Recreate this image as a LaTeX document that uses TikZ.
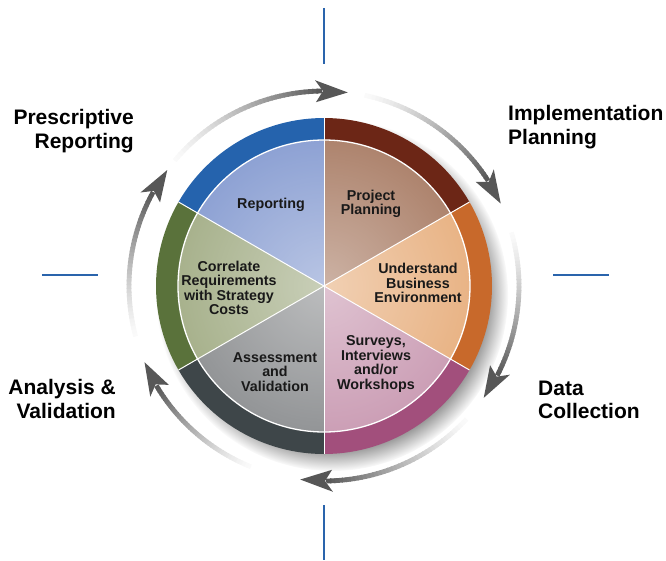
\documentclass[tikz,border=0pt]{standalone}
\usepackage{fontspec}
\setmainfont{Liberation Sans}
\usetikzlibrary{fadings}
\definecolor{repO}{HTML}{2563AD}
\definecolor{repI}{HTML}{8EA2D4}
\definecolor{ppO}{HTML}{6C2616}
\definecolor{ppI}{HTML}{AE846E}
\definecolor{ubO}{HTML}{C8692B}
\definecolor{ubI}{HTML}{E9B486}
\definecolor{svO}{HTML}{A24F7C}
\definecolor{svI}{HTML}{CC9FB6}
\definecolor{avO}{HTML}{3E4649}
\definecolor{avI}{HTML}{939597}
\definecolor{crO}{HTML}{5A723B}
\definecolor{crI}{HTML}{A8B28D}
\definecolor{lineblue}{HTML}{2A64AC}
\tikzfading[name=innerglow, inner color=transparent!62, outer color=transparent!100]
\newcommand{\gradarrow}[2]{%
  \foreach \k in {0,...,39}{%
    \pgfmathsetmacro{\angA}{#1+(#2+8-#1)*\k/40}%
    \pgfmathsetmacro{\angB}{#1+(#2+8-#1)*(\k+1.3)/40}%
    \pgfmathsetmacro{\pct}{2+63*(\k/39)^1.3}%
    \draw[line width=4.8, draw=black!\pct] (\angA:195) arc[start angle=\angA, end angle=\angB, radius=195];
  }%
  \fill[black!66] (#2:195) -- (#2+9.5:206) -- (#2+7.3:195) -- (#2+9.5:184) -- cycle;
}
\newcommand{\sector}[4]{% start, end, outer col, inner col
  \fill[#3] (0,0) -- (#1:168) arc[start angle=#1, end angle=#2, radius=168] -- cycle;
  \fill[#4] (0,0) -- (#1:146) arc[start angle=#1, end angle=#2, radius=146] -- cycle;
}
\tikzset{
  outerlbl/.style={font=\fontsize{21}{23.5}\selectfont\bfseries, inner sep=0pt, text=black},
  innerlbl/.style={font=\fontsize{14.3}{14.4}\selectfont\bfseries, inner sep=0pt, align=center, text=black!90},
  blueline/.style={draw=lineblue, line width=2.2}
}
\begin{document}
\begin{tikzpicture}[x=1pt,y=1pt]
\useasboundingbox (-324,-274) rectangle (342,286);
% blue axis lines
\coordinate (t1) at (0,278); \coordinate (t2) at (0,222);
\coordinate (b1) at (0,-219); \coordinate (b2) at (0,-274);
\coordinate (l1) at (-282,11); \coordinate (l2) at (-226,11);
\coordinate (r1) at (229,11); \coordinate (r2) at (285,11);
\draw[blueline] (t1) -- (t2);
\draw[blueline] (b1) -- (b2);
\draw[blueline] (l1) -- (l2);
\draw[blueline] (r1) -- (r2);
% shadow
\fill[black, opacity=0.5, path fading=circle with fuzzy edge 15 percent] (8,-9) circle (176);
% sectors
\sector{30}{90}{ppO}{ppI}
\sector{-30}{30}{ubO}{ubI}
\sector{-90}{-30}{svO}{svI}
\sector{-150}{-90}{avO}{avI}
\sector{150}{210}{crO}{crI}
\sector{90}{150}{repO}{repI}
\fill[white, path fading=innerglow] (0,0) circle (146);
\foreach \a in {30,90,...,330} \draw[white, line width=1] (0,0) -- (\a:168);
\draw[white, line width=1.3] (0,0) circle (146);
% circular arrows
\gradarrow{140}{83}
\gradarrow{78}{25}
\gradarrow{16}{-35}
\gradarrow{-43}{-97}
\gradarrow{-112}{-157}
\gradarrow{195}{143.5}
% inner labels
\node[innerlbl] (rep) at (-53,81) {Reporting};
\node[innerlbl] (pp) at (47,82) {Project\\Planning};
\node[innerlbl] (ub) at (94,3) {Understand\\Business\\Environment};
\node[innerlbl] (sv) at (52,-78) {Surveys,\\Interviews\\and/or\\Workshops};
\node[innerlbl] (av) at (-49,-86) {Assessment\\and\\Validation};
\node[innerlbl] (cr) at (-95,-2) {Correlate\\Requirements\\with Strategy\\Costs};
% outer labels
\node[outerlbl, align=right, anchor=east] (pres) at (-190,155) {Prescriptive\\Reporting};
\node[outerlbl, align=left, anchor=west] (impl) at (184,159) {Implementation\\Planning};
\node[outerlbl, align=left, anchor=west] (data) at (214,-114) {Data\\Collection};
\node[outerlbl, align=right, anchor=east] (anal) at (-208,-113) {Analysis \&\\Validation};
\end{tikzpicture}
\end{document}
